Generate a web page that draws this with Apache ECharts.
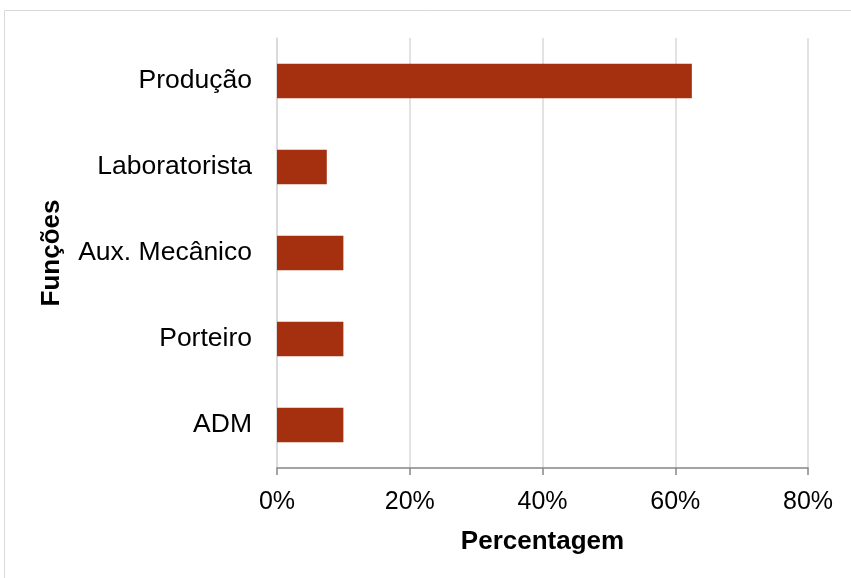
<!DOCTYPE html>
<html lang="pt">
<head>
    <meta charset="utf-8">
    <title>Funções</title>
    <script src="https://cdn.jsdelivr.net/npm/echarts@6/dist/echarts.min.js"></script>
    <style>
        html, body { margin: 0; padding: 0; background: #fff; }
        #main { width: 851px; height: 578px; }
    </style>
</head>
<body>
<div id="main"></div>
<script type="text/javascript">
    // categorias de baixo para cima
    var funcoes = ['ADM', 'Porteiro', 'Aux. Mecânico', 'Laboratorista', 'Produção'];
    // percentagens
    var percentagens = [10, 10, 10, 7.5, 62.5];
    var ticksX = [0, 20, 40, 60, 80];

    var myChart = echarts.init(document.getElementById('main'));
    var fonte = 'Liberation Sans, Arial, sans-serif';

    var option = {
        animation: false,
        graphic: [{
            type: 'rect',
            shape: { x: 4.5, y: 10.5, width: 900, height: 600 },
            style: { fill: 'none', stroke: '#d9d9d9', lineWidth: 1 },
            silent: true
        }],
        grid: {
            left: 277,
            right: 43,
            top: 38,
            bottom: 110
        },
        xAxis: {
            type: 'value',
            min: ticksX[0],
            max: ticksX[ticksX.length - 1],
            interval: 20,
            name: 'Percentagem',
            nameLocation: 'middle',
            nameGap: 61,
            nameTextStyle: { fontFamily: fonte, fontSize: 26, fontWeight: 'bold', color: '#000' },
            axisLine: { show: true, lineStyle: { color: '#868686', width: 1.5 } },
            axisTick: { show: true, length: 7, lineStyle: { color: '#868686', width: 1.5 } },
            axisLabel: {
                margin: 22,
                fontFamily: fonte,
                fontSize: 25,
                color: '#000',
                formatter: '{value}%'
            },
            splitLine: { show: true, lineStyle: { color: '#d9d9d9', width: 1.5 } }
        },
        yAxis: {
            type: 'category',
            data: funcoes,
            name: 'Funções',
            nameLocation: 'middle',
            nameRotate: 90,
            nameGap: 212,
            nameTextStyle: { fontFamily: fonte, fontSize: 26, fontWeight: 'bold', color: '#000' },
            axisLine: { show: true, lineStyle: { color: '#d9d9d9', width: 1.5 } },
            axisTick: { show: false },
            axisLabel: {
                margin: 25,
                fontFamily: fonte,
                fontSize: 26.5,
                color: '#000'
            },
            splitLine: { show: false }
        },
        series: [{
            type: 'bar',
            data: percentagens,
            barWidth: '40%',
            itemStyle: { color: '#a53010' }
        }]
    };
    myChart.setOption(option);
</script>
</body>
</html>
